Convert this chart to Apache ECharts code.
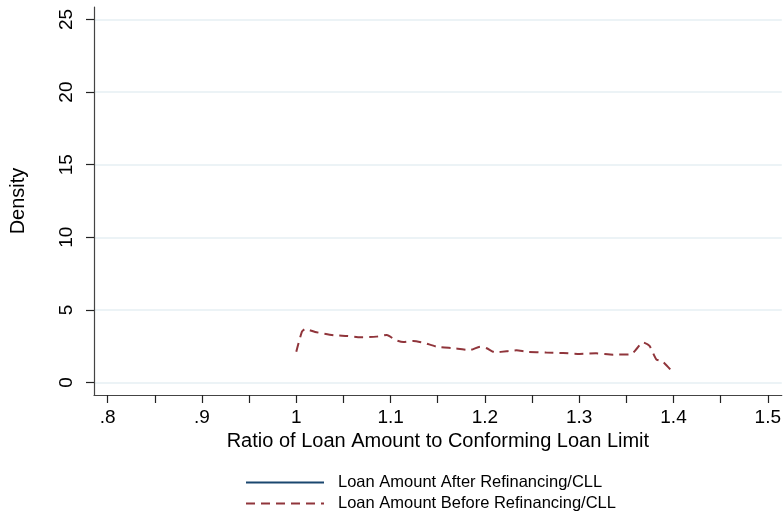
<!DOCTYPE html>
<html>
<head>
<meta charset="utf-8">
<script src="https://cdn.jsdelivr.net/npm/echarts@6/dist/echarts.min.js"></script>
<style>
html,body{margin:0;padding:0;background:#fff;}
#chart{width:784px;height:521px;}
</style>
</head>
<body>
<div id="chart"></div>
<script>
// ---- data ----
var seriesNames = ['Loan Amount After Refinancing/CLL', 'Loan Amount Before Refinancing/CLL'];
var xAfter = [];
var yAfter = [];
var xBefore = [1.0, 1.006, 1.0095, 1.02, 1.0395, 1.054, 1.068, 1.085, 1.096, 1.105, 1.1135, 1.124, 1.135, 1.149, 1.1665, 1.184, 1.195, 1.202, 1.2106, 1.223, 1.2335, 1.244, 1.265, 1.283, 1.3005, 1.318, 1.336, 1.355, 1.3605, 1.3675, 1.3746, 1.3817, 1.3887, 1.4003];
var yBefore = [2.12, 3.5, 3.69, 3.48, 3.26, 3.21, 3.12, 3.16, 3.28, 2.93, 2.79, 2.86, 2.74, 2.47, 2.36, 2.24, 2.47, 2.36, 2.08, 2.15, 2.22, 2.12, 2.06, 2.03, 1.97, 2.01, 1.92, 1.94, 2.29, 2.77, 2.52, 1.60, 1.43, 0.63];
var xTicks = [0.8, 0.85, 0.9, 0.95, 1, 1.05, 1.1, 1.15, 1.2, 1.25, 1.3, 1.35, 1.4, 1.45, 1.5];
var xTickLabels = [0.8, 0.9, 1, 1.1, 1.2, 1.3, 1.4, 1.5];
var yTicks = [0, 5, 10, 15, 20, 25];

function zip(xs, ys){ var o=[]; for (var i=0;i<xs.length;i++) o.push([xs[i], ys[i]]); return o; }

var FONT = '"Liberation Sans", Arial, Helvetica, sans-serif';
var chart = echarts.init(document.getElementById('chart'), null, {renderer:'canvas'});
chart.setOption({
  animation: false,
  backgroundColor: '#ffffff',
  textStyle: {fontFamily: FONT},
  grid: {left: 93, right: 2, top: 7, bottom: 126, containLabel: false},
  xAxis: {
    type: 'value',
    min: 0.7855, max: 1.5148,
    name: 'Ratio of Loan Amount to Conforming Loan Limit',
    nameLocation: 'middle', nameGap: 30,
    nameTextStyle: {fontSize: 20, color: '#000', fontFamily: FONT},
    axisLine: {show: true, onZero: false, lineStyle: {color: '#444', width: 1.2}},
    axisTick: {show: true, length: 8, lineStyle: {color: '#222', width: 1.2}, customValues: xTicks},
    axisLabel: {fontSize: 19, color: '#000', margin: 13, fontFamily: FONT, customValues: xTickLabels,
      formatter: function(v){ var s = String(+v.toFixed(2)); return s.replace(/^0\./, '.'); }},
    splitLine: {show: false}
  },
  yAxis: {
    type: 'value',
    min: -0.86, max: 25.86,
    name: 'Density',
    nameLocation: 'middle', nameGap: 66, nameRotate: 90,
    nameTextStyle: {fontSize: 20, color: '#000', fontFamily: FONT},
    axisLine: {show: true, onZero: false, lineStyle: {color: '#444', width: 1.2}},
    axisTick: {show: true, length: 8, lineStyle: {color: '#222', width: 1.2}, customValues: yTicks},
    axisLabel: {fontSize: 19, color: '#000', margin: 18, rotate: 90, fontFamily: FONT, customValues: yTicks},
    splitLine: {show: true, lineStyle: {color: '#e6eff3', width: 1.5}}
  },
  legend: {
    orient: 'vertical',
    left: 245, top: 474, padding: 0,
    itemWidth: 78, itemHeight: 14, itemGap: 4,
    itemStyle: {opacity: 0},
    textStyle: {fontSize: 16.5, color: '#000', fontFamily: FONT, padding: [0,0,0,9]},
    data: seriesNames
  },
  series: [
    {
      name: seriesNames[0], type: 'line', symbol: 'none', smooth: 0.2,
      data: zip(xAfter, yAfter),
      lineStyle: {color: '#1a476f', width: 2}, itemStyle: {color: '#1a476f'}
    },
    {
      name: seriesNames[1], type: 'line', symbol: 'none', smooth: 0.2,
      data: zip(xBefore, yBefore),
      lineStyle: {color: '#90353b', width: 2, type: [9, 6]}, itemStyle: {color: '#90353b'}
    }
  ]
});
</script>
</body>
</html>
